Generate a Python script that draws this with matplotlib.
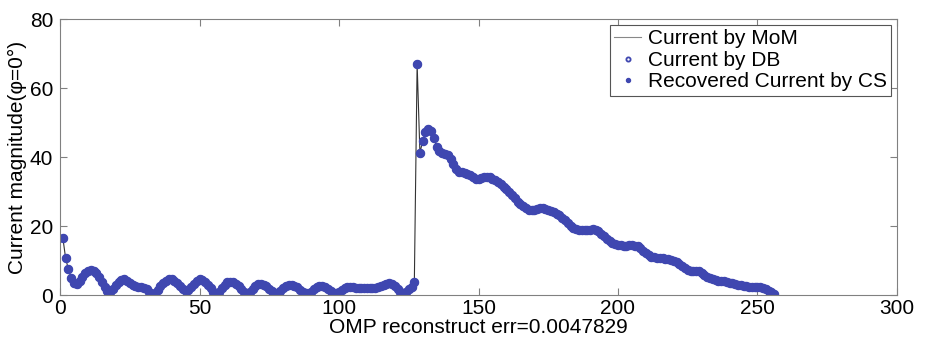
import numpy as np
import matplotlib
matplotlib.use('Agg')
import matplotlib.pyplot as plt

plt.rcParams['font.family'] = ['Liberation Sans', 'DejaVu Sans']

# current magnitude at each of the 256 segments
current = [
    16.6, 10.7, 7.4, 5.0, 3.4, 3.3, 4.0, 5.2, 6.3, 7.0,
    7.3, 7.1, 6.4, 5.2, 3.8, 2.4, 1.2, 0.9, 1.6, 2.8,
    3.8, 4.4, 4.5, 4.2, 3.6, 3.0, 2.6, 2.4, 2.2, 2.0,
    1.6, 0.9, 0.3, 0.6, 1.5, 2.5, 3.4, 4.1, 4.5, 4.5,
    4.1, 3.4, 2.5, 1.7, 1.3, 1.5, 2.3, 3.3, 4.1, 4.5,
    4.4, 3.9, 3.0, 2.0, 1.0, 0.6, 1.0, 2.0, 3.0, 3.7,
    3.9, 3.8, 3.3, 2.5, 1.6, 0.8, 0.4, 0.8, 1.7, 2.6,
    3.1, 3.2, 3.0, 2.5, 1.8, 1.1, 0.7, 0.6, 1.1, 1.9,
    2.5, 2.8, 2.9, 2.7, 2.2, 1.5, 0.9, 0.5, 0.4, 0.9,
    1.6, 2.2, 2.5, 2.5, 2.3, 1.8, 1.2, 0.7, 0.5, 0.9,
    1.5, 2.0, 2.3, 2.3, 2.2, 2.1, 2.1, 2.0, 2.0, 2.0,
    1.9, 1.9, 2.0, 2.2, 2.5, 2.9, 3.3, 3.5, 3.2, 2.6,
    1.6, 0.8, 0.6, 1.0, 1.7, 2.4, 3.7, 67.0, 41.2, 44.7,
    47.2, 48.2, 47.6, 45.4, 43.0, 41.7, 41.3, 41.0, 40.5, 39.5,
    38.0, 36.5, 35.8, 35.6, 35.5, 35.1, 34.7, 34.2, 33.7, 33.5,
    34.0, 34.3, 34.3, 34.1, 33.7, 33.2, 32.7, 32.1, 31.4, 30.6,
    29.8, 29.0, 28.0, 27.1, 26.3, 25.7, 25.1, 24.7, 24.5, 24.6,
    24.9, 25.1, 25.1, 24.9, 24.6, 24.3, 24.0, 23.6, 23.1, 22.4,
    21.6, 20.8, 20.0, 19.4, 19.0, 18.8, 18.7, 18.7, 18.7, 18.8,
    19.0, 18.9, 18.5, 17.8, 17.0, 16.2, 15.6, 15.2, 14.9, 14.6,
    14.4, 14.3, 14.3, 14.4, 14.4, 14.3, 14.1, 13.6, 12.9, 12.2,
    11.6, 11.1, 10.9, 10.7, 10.6, 10.6, 10.5, 10.4, 10.2, 9.9,
    9.5, 8.9, 8.3, 7.7, 7.3, 7.0, 6.9, 7.0, 6.9, 6.5,
    5.9, 5.3, 4.8, 4.5, 4.3, 4.2, 4.1, 4.0, 3.8, 3.6,
    3.4, 3.2, 3.0, 2.8, 2.6, 2.5, 2.4, 2.4, 2.4, 2.4,
    2.3, 2.0, 1.7, 1.3, 0.8, 0.4,
]
segment = np.arange(1, len(current) + 1)

xticks = [0, 50, 100, 150, 200, 250, 300]
yticks = [0, 20, 40, 60, 80]

blue = '#3f47b0'

fig = plt.figure(figsize=(9.25, 3.42), dpi=100)
ax = fig.add_axes([0.0649, 0.1374, 0.9048, 0.807])

ax.plot(segment, current, color='#333333', lw=0.8, label='Current by MoM')
ax.plot(segment, current, 'o', ls='none', mfc='none', mec=blue, ms=5.5, mew=1.3,
        label='Current by DB')
ax.plot(segment, current, '.', ls='none', color=blue, ms=10.5,
        label='Recovered Current by CS')

ax.set_xlim(0, 300)
ax.set_ylim(0, 80)
ax.set_xticks(xticks)
ax.set_yticks(yticks)
ax.tick_params(direction='in', top=True, right=True, length=5, color='#808080',
               labelsize=15)
ax.tick_params(axis='x', pad=3)
ax.tick_params(axis='y', pad=5)
for s in ax.spines.values():
    s.set_color('#808080')

ax.set_xlabel('OMP reconstruct err=0.0047829', fontsize=15, labelpad=0)
ax.set_ylabel('Current magnitude(\u03c6=0\u00b0)', fontsize=15, labelpad=2)

leg = ax.legend(loc='upper right', fontsize=15, markerscale=0.55, fancybox=False,
                edgecolor='#555555', framealpha=1, handlelength=1.3,
                handletextpad=0.3, borderpad=0.2, labelspacing=0.12,
                borderaxespad=0.3)
leg.get_frame().set_linewidth(0.8)
leg.get_lines()[0].set_color('#888888')

fig.savefig('out.png', dpi=100)
